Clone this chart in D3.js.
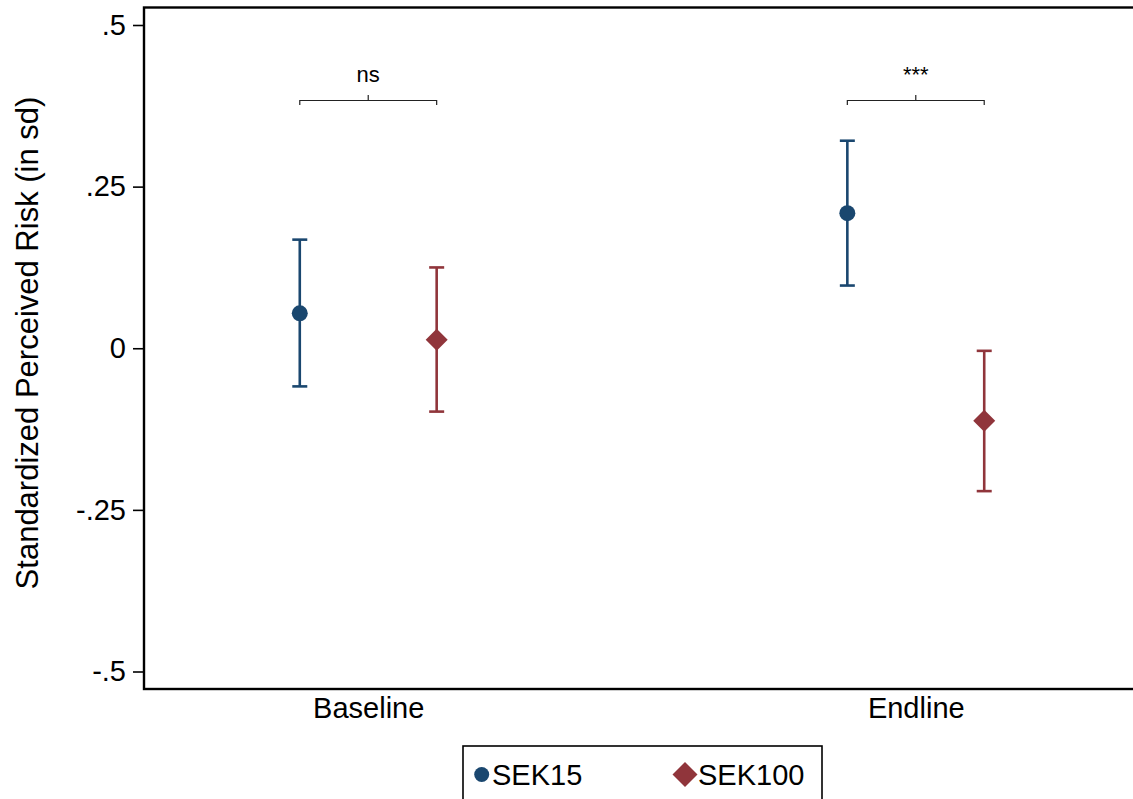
<!DOCTYPE html>
<html>
<head>
<meta charset="utf-8">
<script src="https://cdn.jsdelivr.net/npm/d3@7"></script>
<style>
  html, body { margin: 0; padding: 0; background: #fff; }
  svg { display: block; font-family: "Liberation Sans", Arial, sans-serif; }
</style>
</head>
<body>
<svg id="chart" width="1133" height="799"></svg>
<script>
// ---- data ----
const categories = ["Baseline", "Endline"];
const seriesNames = ["SEK15", "SEK100"];
const sek15Est   = [0.054, 0.209];
const sek15Low   = [-0.059, 0.097];
const sek15High  = [0.168, 0.321];
const sek100Est  = [0.013, -0.112];
const sek100Low  = [-0.098, -0.221];
const sek100High = [0.125, -0.004];
const yTicks = [0.5, 0.25, 0, -0.25, -0.5];
const yTickLabels = [".5", ".25", "0", "-.25", "-.5"];
const sigLabels = ["ns", "***"];

// ---- layout ----
const svg = d3.select("#chart");
const colors = { SEK15: "#1a476f", SEK100: "#90353b" };
const plotLeft = 144, plotRight = 1140, plotTop = 7.5, plotBottom = 689;

const x = d3.scaleLinear().domain([1 - 0.4095, 2 + 0.4095]).range([plotLeft, plotRight]);
const y = d3.scaleLinear().domain([-0.5, 0.5]).range([671.5, 25]);
const offset = 0.125;

// frame
svg.append("rect")
  .attr("x", plotLeft).attr("y", plotTop)
  .attr("width", plotRight - plotLeft).attr("height", plotBottom - plotTop)
  .attr("fill", "none").attr("stroke", "#000").attr("stroke-width", 2.4);

// y axis
const yAxis = d3.axisLeft(y)
  .tickValues(yTicks)
  .tickFormat((d, i) => yTickLabels[i])
  .tickSize(11)
  .tickPadding(7);
const gy = svg.append("g").attr("transform", `translate(${plotLeft},0)`).call(yAxis);
gy.select(".domain").remove();
gy.selectAll(".tick line").attr("stroke", "#000").attr("stroke-width", 1.6);
gy.selectAll(".tick text").attr("fill", "#000").style("font-size", "29px")
  .style("font-family", "'Liberation Sans', Arial, sans-serif");

// x axis labels (no ticks)
const xAxis = d3.axisBottom(x)
  .tickValues([1, 2])
  .tickFormat((d, i) => categories[i])
  .tickSize(0)
  .tickPadding(8);
const gx = svg.append("g").attr("transform", `translate(0,${plotBottom})`).call(xAxis);
gx.select(".domain").remove();
gx.selectAll(".tick text").attr("fill", "#000").style("font-size", "29px")
  .style("font-family", "'Liberation Sans', Arial, sans-serif");

// y title
svg.append("text")
  .attr("transform", `translate(38,343) rotate(-90)`)
  .attr("text-anchor", "middle")
  .style("font-size", "31px")
  .text("Standardized Perceived Risk (in sd)");

// series
const series = [
  { name: "SEK15", est: sek15Est, low: sek15Low, high: sek15High, dx: -offset },
  { name: "SEK100", est: sek100Est, low: sek100Low, high: sek100High, dx: offset }
];
const capHalf = 7.5;
series.forEach(s => {
  const g = svg.append("g");
  const c = colors[s.name];
  categories.forEach((cat, i) => {
    const cx = x(i + 1 + s.dx);
    g.append("line").attr("x1", cx).attr("x2", cx)
      .attr("y1", y(s.low[i])).attr("y2", y(s.high[i]))
      .attr("stroke", c).attr("stroke-width", 2.6);
    [s.low[i], s.high[i]].forEach(v => {
      g.append("line").attr("x1", cx - capHalf).attr("x2", cx + capHalf)
        .attr("y1", y(v)).attr("y2", y(v))
        .attr("stroke", c).attr("stroke-width", 2.6);
    });
    if (s.name === "SEK15") {
      g.append("circle").attr("cx", cx).attr("cy", y(s.est[i])).attr("r", 8).attr("fill", c);
    } else {
      const h = 11;
      const cy = y(s.est[i]);
      g.append("path")
        .attr("d", `M${cx},${cy - h}L${cx + h},${cy}L${cx},${cy + h}L${cx - h},${cy}Z`)
        .attr("fill", c);
    }
  });
});

// significance brackets
categories.forEach((cat, i) => {
  const x1 = x(i + 1 - offset), x2 = x(i + 1 + offset), xm = x(i + 1);
  const by = 100.5;
  svg.append("path")
    .attr("d", `M${x1},${by + 4.5}V${by}H${x2}V${by + 4.5}M${xm},${by}V${by - 5.5}`)
    .attr("fill", "none").attr("stroke", "#222").attr("stroke-width", 1.2);
  svg.append("text")
    .attr("x", xm).attr("y", 82)
    .attr("text-anchor", "middle")
    .style("font-size", "22px")
    .text(sigLabels[i]);
});

// legend
const lg = svg.append("g");
lg.append("rect").attr("x", 463).attr("y", 746).attr("width", 359).attr("height", 70)
  .attr("fill", "#fff").attr("stroke", "#000").attr("stroke-width", 1.6);
lg.append("circle").attr("cx", 481.7).attr("cy", 774.5).attr("r", 7.5).attr("fill", colors.SEK15);
lg.append("text").attr("x", 492).attr("y", 785).style("font-size", "29px").text(seriesNames[0]);
{
  const cx = 685, cy = 774.5, h = 12.5;
  lg.append("path")
    .attr("d", `M${cx},${cy - h}L${cx + h},${cy}L${cx},${cy + h}L${cx - h},${cy}Z`)
    .attr("fill", colors.SEK100);
}
lg.append("text").attr("x", 698).attr("y", 785).style("font-size", "29px").text(seriesNames[1]);
</script>
</body>
</html>
